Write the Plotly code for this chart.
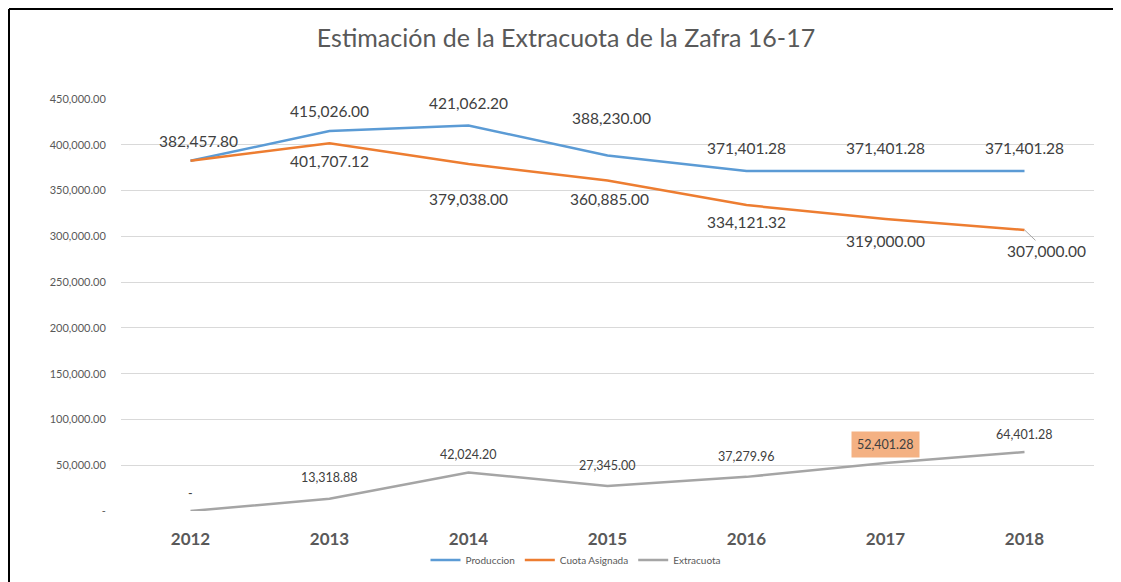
import plotly.graph_objects as go

years = [2012, 2013, 2014, 2015, 2016, 2017, 2018]
produccion = [382457.80, 415026.00, 421062.20, 388230.00, 371401.28, 371401.28, 371401.28]
cuota = [382457.80, 401707.12, 379038.00, 360885.00, 334121.32, 319000.00, 307000.00]
extracuota = [0, 13318.88, 42024.20, 27345.00, 37279.96, 52401.28, 64401.28]
y_ticks = [0, 50000, 100000, 150000, 200000, 250000, 300000, 350000, 400000, 450000]
y_ticklabels = ["-" if v == 0 else f"{v:,.2f}" for v in y_ticks]

C_PROD = "#5B9BD5"
C_CUOTA = "#ED7D31"
C_EXTRA = "#A5A5A5"
TXT = "#595959"
LBL = "#404040"
FONT = "Lato"

# page offset (browser body margin)
OFF = 8
PL, PR, PT, PB = 121, 1094, 99, 511  # plot area in page pixels
W, H = 1121, 582

fig = go.Figure()
fig.add_trace(go.Scatter(x=years, y=produccion, mode="lines", name="Produccion",
                         line=dict(color=C_PROD, width=2.5)))
fig.add_trace(go.Scatter(x=years, y=cuota, mode="lines", name="Cuota Asignada",
                         line=dict(color=C_CUOTA, width=2.5)))
fig.add_trace(go.Scatter(x=years, y=extracuota, mode="lines", name="Extracuota",
                         line=dict(color=C_EXTRA, width=2.5)))

def fmt(v):
    return "-" if v == 0 else f"{v:,.2f}"

annotations = []
prod_off = [(8, 20), (0, 20), (0, 22), (4, 38), (0, 23), (0, 23), (0, 23)]
for x, v, (dx, dy) in zip(years, produccion, prod_off):
    annotations.append(dict(x=x, y=v, text=fmt(v), showarrow=False, xshift=dx, yshift=dy,
                            font=dict(family=FONT, size=15.5, color=LBL)))
cuota_off = [None, (0, -18), (0, -35), (2, -18), (0, -17), (0, -22), None]
for x, v, off in zip(years, cuota, cuota_off):
    if off is None:
        continue
    dx, dy = off
    annotations.append(dict(x=x, y=v, text=fmt(v), showarrow=False, xshift=dx, yshift=dy,
                            font=dict(family=FONT, size=15.5, color=LBL)))
annotations.append(dict(x=years[-1], y=cuota[-1], text=fmt(cuota[-1]), showarrow=True,
                        arrowhead=0, arrowwidth=1, arrowcolor="#A6A6A6", ax=22, ay=21,
                        font=dict(family=FONT, size=15.5, color=LBL)))
extra_off = [18, 21, 18, 20, 20, 19, 18]
for i, (x, v, dy) in enumerate(zip(years, extracuota, extra_off)):
    a = dict(x=x, y=v, text=fmt(v), showarrow=False, yshift=dy,
             font=dict(family=FONT, size=12.5, color=LBL))
    if i == 5:
        a.update(bgcolor="#F4B183", borderpad=5)
    annotations.append(a)

def px(p):
    return (p - PL) / (PR - PL)

def py(p):
    return (PB - p) / (PB - PT)

fig.update_layout(
    width=W, height=H,
    margin=dict(l=PL - OFF, r=W + OFF - PR, t=PT - OFF, b=H + OFF - PB, autoexpand=False),
    paper_bgcolor="white", plot_bgcolor="white",
    title=dict(text="Estimación de la Extracuota de la Zafra 16-17", x=px(566), xref="paper",
               xanchor="center", y=1 - (38 - OFF) / H, yanchor="middle",
               font=dict(family=FONT, size=25, color=TXT)),
    xaxis=dict(range=[2011.5, 2018.5], tickvals=years, ticktext=[f"<b>{y}</b>" for y in years],
               showgrid=False, zeroline=False, showline=False,
               tickfont=dict(family=FONT, size=17, color=TXT), ticks="outside", ticklen=13,
               tickcolor="rgba(0,0,0,0)"),
    yaxis=dict(range=[0, 450000], tickvals=y_ticks, ticktext=y_ticklabels,
               showgrid=True, gridcolor="#D9D9D9", gridwidth=1, zeroline=False, showline=False,
               tickfont=dict(family=FONT, size=11, color=TXT), ticks="outside", ticklen=12,
               tickcolor="rgba(0,0,0,0)"),
    legend=dict(orientation="h", x=px(576), xanchor="center", y=py(560),
                yanchor="middle", font=dict(family=FONT, size=10, color=TXT),
                itemwidth=30, tracegroupgap=0),
    showlegend=True,
    annotations=annotations,
    shapes=[
        dict(type="line", xref="paper", yref="paper", x0=px(9), x1=px(1130),
             y0=py(9), y1=py(9), line=dict(color="black", width=2)),
        dict(type="line", xref="paper", yref="paper", x0=px(9), x1=px(9),
             y0=py(9), y1=py(600), line=dict(color="black", width=2)),
    ],
)

fig.write_html("out.html")
